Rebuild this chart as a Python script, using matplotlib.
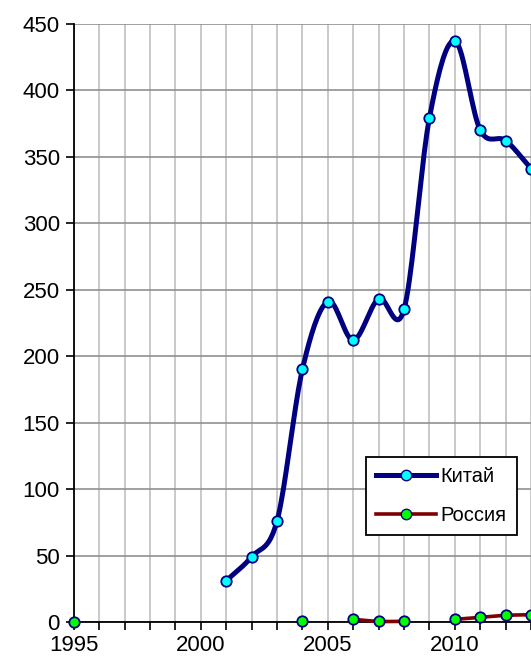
import numpy as np
import matplotlib.pyplot as plt

plt.rcParams["font.family"] = ["Liberation Sans", "DejaVu Sans"]

# data
years = list(range(1995, 2014))
china = [np.nan] * 6 + [31, 49, 76, 190, 241, 212, 243, 235, 379, 437, 370, 362, 341]
russia = [0] + [np.nan] * 8 + [0.5, np.nan, 2, 0.5, 0.5, np.nan, 2, 3.5, 5, 5.5]
y_ticks = list(range(0, 451, 50))
x_labels = [1995, 2000, 2005, 2010]


def smooth(xs, ys, n=20):
    # Catmull-Rom curve through consecutive runs of points (Excel "smoothed line" look)
    xs = np.asarray(xs, float)
    ys = np.asarray(ys, float)
    out_x, out_y = [], []
    ok = ~np.isnan(ys)
    i = 0
    while i < len(xs):
        if not ok[i]:
            i += 1
            continue
        j = i
        while j + 1 < len(xs) and ok[j + 1]:
            j += 1
        px, py = xs[i:j + 1], ys[i:j + 1]
        if len(px) == 1:
            out_x += [px[0], np.nan]
            out_y += [py[0], np.nan]
        else:
            ex = np.concatenate([[2 * px[0] - px[1]], px, [2 * px[-1] - px[-2]]])
            ey = np.concatenate([[2 * py[0] - py[1]], py, [2 * py[-1] - py[-2]]])
            t = np.linspace(0, 1, n)
            for k in range(1, len(ex) - 2):
                for arr, out in ((ex, out_x), (ey, out_y)):
                    p0, p1, p2, p3 = arr[k - 1], arr[k], arr[k + 1], arr[k + 2]
                    out += list(0.5 * ((2 * p1) + (-p0 + p2) * t
                                       + (2 * p0 - 5 * p1 + 4 * p2 - p3) * t ** 2
                                       + (-p0 + 3 * p1 - 3 * p2 + p3) * t ** 3))
            out_x.append(np.nan)
            out_y.append(np.nan)
        i = j + 1
    return out_x, out_y


fig = plt.figure(figsize=(5.31, 6.62), dpi=100)
ax = fig.add_axes([0.139, 0.0604, 0.861, 0.904])

cx, cy = smooth(years, china)
rx, ry = smooth(years, russia)
ax.plot(cx, cy, color="#000080", linewidth=3.6, clip_on=False, zorder=4)
ax.plot(years, china, linestyle="none", marker="o", markersize=7.5, markerfacecolor="#00FFFF",
        markeredgecolor="#000080", markeredgewidth=1.3, clip_on=False, zorder=5)
ax.plot(rx, ry, color="#800000", linewidth=2.6, clip_on=False, zorder=4)
ax.plot(years, russia, linestyle="none", marker="o", markersize=7.5, markerfacecolor="#00FF00",
        markeredgecolor="#000080", markeredgewidth=1.3, clip_on=False, zorder=5)

# legend proxies
ax.plot([], [], color="#000080", linewidth=3.6, marker="o", markersize=7.5,
        markerfacecolor="#00FFFF", markeredgecolor="#000080", label="Китай")
ax.plot([], [], color="#800000", linewidth=2.6, marker="o", markersize=7.5,
        markerfacecolor="#00FF00", markeredgecolor="#000080", label="Россия")

ax.set_xlim(1995, 2012.8)
ax.set_ylim(0, 450)
ax.set_yticks(y_ticks)
ax.set_xticks(years)
ax.set_xticklabels([str(y) if y in x_labels else "" for y in years])
ax.tick_params(axis="both", labelsize=16, direction="out", length=6, width=1.2, color="black")
ax.tick_params(axis="x", pad=3)
ax.tick_params(axis="y", pad=4)

ax.grid(axis="x", color="#c0c0c0", linewidth=1.2)
ax.grid(axis="y", color="#909090", linewidth=1.2)
ax.set_axisbelow(True)
for s in ["top", "right"]:
    ax.spines[s].set_visible(False)
for s in ["left", "bottom"]:
    ax.spines[s].set_linewidth(1.3)
    ax.spines[s].set_color("black")
    ax.spines[s].set_zorder(3)

leg = fig.legend(loc="upper left", bbox_to_anchor=(366 / 531, 1 - 457 / 662), fontsize=14.5,
                 frameon=True, fancybox=False, edgecolor="black", framealpha=1,
                 handlelength=3.0, handletextpad=0.2, labelspacing=1.0, borderpad=0.5,
                 borderaxespad=0)
leg.get_frame().set_linewidth(1.3)
leg.set_zorder(6)

plt.savefig("out.png", dpi=100)
